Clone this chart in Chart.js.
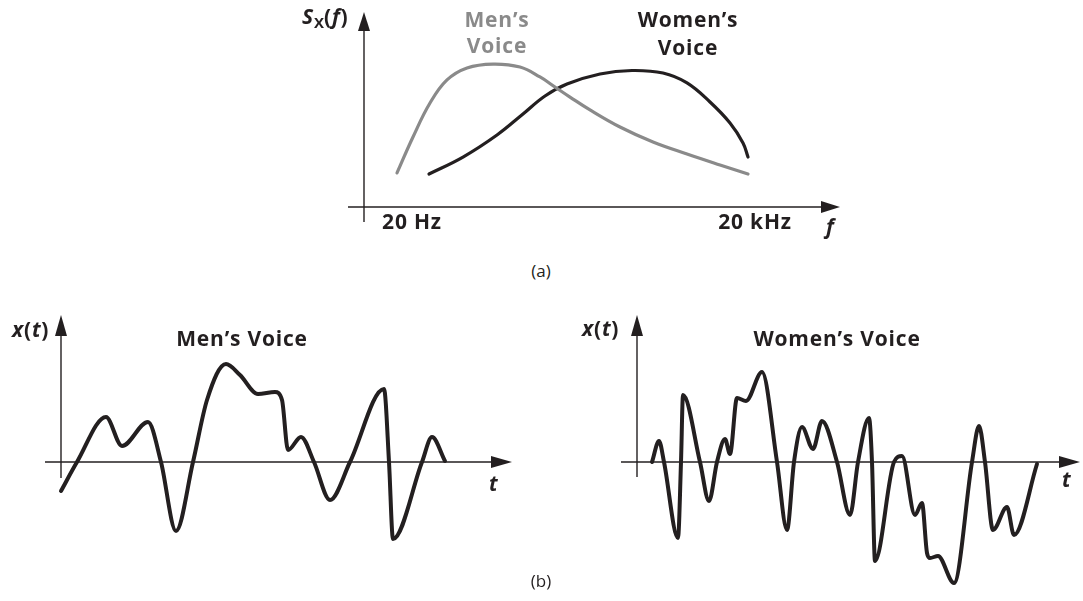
<!DOCTYPE html>
<html>
<head>
<meta charset="utf-8">
<script src="https://cdn.jsdelivr.net/npm/chart.js@4"></script>
<style>
  html, body { margin: 0; padding: 0; background: #fff; }
  body { width: 1083px; height: 601px; position: relative; overflow: hidden;
         font-family: "Open Sans", "Noto Sans", sans-serif; color: #231f20; }
  canvas { position: absolute; }
  .lbl { position: absolute; font-weight: 700; font-size: 21px; line-height: 21px;
         letter-spacing: 0.8px; white-space: nowrap; }
  .c { transform: translateX(-50%); text-align: center; }
  .gray { color: #8a8a8a; }
  .cap { position: absolute; font-size: 17px; line-height: 17px; transform: translateX(-50%); }
  i { font-style: italic; }
  sub { font-size: 15px; vertical-align: -4px; line-height: 0; letter-spacing: 0; }
</style>
</head>
<body>
<canvas id="spectrum" width="560" height="240" style="left:300px;top:0px"></canvas>
<canvas id="menWave" width="500" height="280" style="left:21px;top:302px"></canvas>
<canvas id="womenWave" width="486" height="290" style="left:597px;top:302px"></canvas>

<div class="lbl" style="left:302px;top:6px"><i>S</i><sub>X</sub>(<i>f</i>)</div>
<div class="lbl c gray" style="left:497px;top:6px;line-height:26px">Men’s<br>Voice</div>
<div class="lbl c" style="left:688px;top:5px;line-height:28px">Women’s<br>Voice</div>
<div class="lbl" style="left:826px;top:216px"><i>f</i></div>
<div id="tick0" class="lbl c" style="top:211px"></div>
<div id="tick1" class="lbl c" style="top:211px"></div>
<div class="cap" style="left:541px;top:262px">(a)</div>

<div class="lbl" style="left:12px;top:319px"><i>x</i>(<i>t</i>)</div>
<div class="lbl c" style="left:242px;top:328px">Men’s Voice</div>
<div class="lbl" style="left:489px;top:473px"><i>t</i></div>

<div class="lbl" style="left:582px;top:318px"><i>x</i>(<i>t</i>)</div>
<div class="lbl c" style="left:837px;top:328px">Women’s Voice</div>
<div class="lbl" style="left:1062px;top:469px"><i>t</i></div>
<div class="cap" style="left:541px;top:572px">(b)</div>

<script>
// (a) power spectrum, frequency in arbitrary units
const menFreq = [8.25, 12.25, 16.5, 20.75, 25.75, 32.25, 39, 44, 47.75, 51.5, 56.5, 64, 72.25, 80.75, 89, 96];
const menPower = [22.7, 46.7, 69.3, 84.7, 92.7, 95.3, 93.3, 86.7, 80, 73.3, 64.7, 53.3, 43.3, 35.3, 28, 22];
const womenFreq = [16.25, 24.75, 33.25, 39.75, 45.25, 50.75, 59, 67, 74.75, 80.75, 86.5, 91.5, 94.75, 96];
const womenPower = [22, 33.3, 48, 62, 74, 82, 88.7, 91, 89.3, 82.7, 70, 56, 42.7, 33.3];
const freqTickValues = [12, 97.75];
const freqTickLabels = ["20 Hz", "20 kHz"];

// (b) time-domain waveforms
const menTime = [0, 4, 11.25, 15.25, 21.75, 25, 28.75, 33, 36.5, 41.25, 44.75, 49.25, 53.5, 55.25, 56.75,
                 60, 63.25, 67.25, 72.25, 80.75, 82, 83, 90.25, 92.75, 96];
const menSignal = [-2.9, 0, 4.5, 1.6, 4.0, 0, -6.9, 0, 6.2, 9.8, 8.7, 6.8, 7.0, 6.2, 1.2,
                   2.5, 0, -3.8, 0, 7.3, 0, -7.7, 0, 2.5, 0.1];
const womenTime = [3.75, 5.5, 6.75, 10.25, 11, 11.5, 15.75, 18, 20, 22, 23.25, 25, 27.25, 31.25, 35,
                   37.5, 39.25, 41.25, 44, 46.25, 50, 53.25, 55.25, 58, 58.75, 59.5, 64.25, 66.25,
                   69.5, 71.25, 72.5, 73.25, 75.25, 79.25, 83.75, 85.5, 87, 89, 92.5, 94.25, 100];
const womenSignal = [0, 2.1, 0, -7.6, 0, 6.7, 0, -3.9, 0, 2.3, 0.8, 6.4, 6.1, 9.0, 0,
                     -6.8, 0, 3.5, 1.3, 4.1, 0, -5.3, 0, 4.4, 0, -9.9, 0, 0.6,
                     -5.3, -4.1, -9.1, -9.6, -9.4, -12.1, 0, 3.6, 0, -6.8, -4.5, -7.3, -0.2];

const ink = "#231f20";
const gray = "#8a8a8a";

const toPoints = (xs, ys) => xs.map((x, i) => ({ x: x, y: ys[i] }));

// axes drawn as plain lines through the origin with filled arrowheads
const arrowAxes = {
    id: "arrowAxes",
    beforeDatasetsDraw(chart, args, opts) {
        const ctx = chart.ctx;
        const { x, y } = chart.scales;
        const x0 = x.getPixelForValue(0);
        const y0 = y.getPixelForValue(0);
        ctx.save();
        ctx.strokeStyle = ink;
        ctx.fillStyle = ink;
        ctx.lineWidth = 1.4;

        // horizontal
        const xa = x.getPixelForValue(opts.xFrom);
        const xb = x.getPixelForValue(opts.xTo);
        ctx.beginPath();
        ctx.moveTo(xa, y0);
        ctx.lineTo(xb - opts.head + 2, y0);
        ctx.stroke();
        ctx.beginPath();
        ctx.moveTo(xb, y0);
        ctx.lineTo(xb - opts.head, y0 - opts.half);
        ctx.lineTo(xb - opts.head, y0 + opts.half);
        ctx.closePath();
        ctx.fill();

        // vertical
        const ya = y.getPixelForValue(opts.yFrom);
        const yb = y.getPixelForValue(opts.yTo);
        ctx.beginPath();
        ctx.moveTo(x0, ya);
        ctx.lineTo(x0, yb + opts.head - 2);
        ctx.stroke();
        ctx.beginPath();
        ctx.moveTo(x0, yb);
        ctx.lineTo(x0 - opts.half, yb + opts.head);
        ctx.lineTo(x0 + opts.half, yb + opts.head);
        ctx.closePath();
        ctx.fill();
        ctx.restore();
    }
};

function makeOptions(xmin, xmax, ymin, ymax, axes) {
    return {
        responsive: false,
        animation: false,
        events: [],
        layout: { padding: 0 },
        elements: {
            point: { radius: 0 },
            line: { cubicInterpolationMode: "monotone", borderCapStyle: "round", borderJoinStyle: "round" }
        },
        scales: {
            x: { type: "linear", min: xmin, max: xmax, display: false },
            y: { type: "linear", min: ymin, max: ymax, display: false }
        },
        plugins: {
            legend: { display: false },
            tooltip: { enabled: false },
            arrowAxes: axes
        }
    };
}

// the spectra are smooth, so plain bezier tension rounds the peaks better
const spectrum = new Chart(document.getElementById("spectrum"), {
    type: "line",
    data: {
        datasets: [
            { label: "Men's Voice", data: toPoints(menFreq, menPower), borderColor: gray, borderWidth: 3.2,
              cubicInterpolationMode: "default", tension: 0.4 },
            { label: "Women's Voice", data: toPoints(womenFreq, womenPower), borderColor: ink, borderWidth: 3.2,
              cubicInterpolationMode: "default", tension: 0.4 }
        ]
    },
    options: makeOptions(-16, 124, -22, 138, { xFrom: -4, xTo: 119, yFrom: -10, yTo: 130, head: 19, half: 6 }),
    plugins: [arrowAxes]
});

// put the frequency labels under their tick positions
freqTickValues.forEach((v, i) => {
    const el = document.getElementById("tick" + i);
    el.textContent = freqTickLabels[i];
    el.style.left = (300 + spectrum.scales.x.getPixelForValue(v)) + "px";
});

new Chart(document.getElementById("menWave"), {
    type: "line",
    data: {
        datasets: [{ label: "Men's Voice", data: toPoints(menTime, menSignal), borderColor: ink, borderWidth: 4 }]
    },
    options: makeOptions(-10, 115, -12, 16, { xFrom: -4, xTo: 112.75, yFrom: -1.6, yTo: 14.7, head: 21, half: 6 }),
    plugins: [arrowAxes]
});

new Chart(document.getElementById("womenWave"), {
    type: "line",
    data: {
        datasets: [{ label: "Women's Voice", data: toPoints(womenTime, womenSignal), borderColor: ink, borderWidth: 4 }]
    },
    options: makeOptions(-10, 111.5, -13, 16, { xFrom: -4, xTo: 110.75, yFrom: -1.5, yTo: 14.7, head: 21, half: 6 }),
    plugins: [arrowAxes]
});
</script>
</body>
</html>
